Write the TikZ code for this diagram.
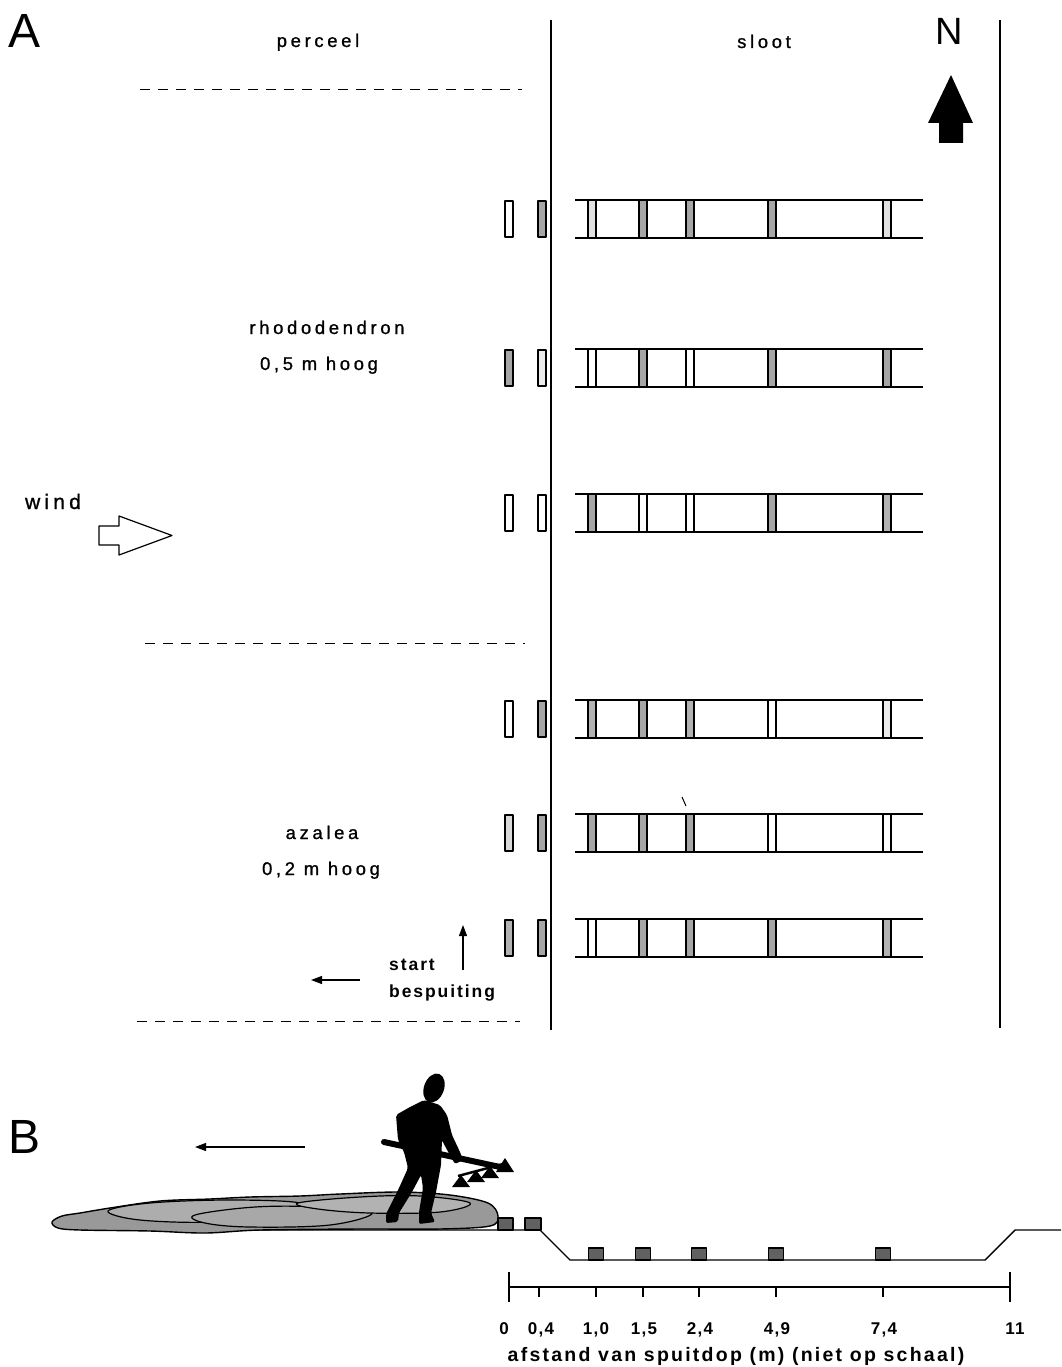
\documentclass[tikz,border=0pt]{standalone}
\usepackage{fontspec}
\setmainfont{Liberation Sans}
\newfontfamily\spaced[LetterSpace=20,FakeBold=1]{Liberation Sans}
\newfontfamily\spacedb[LetterSpace=11]{Liberation Sans}
\newfontfamily\scalefont[LetterSpace=8]{Liberation Sans}
\newfontfamily\capfont[LetterSpace=11.5]{Liberation Sans}
\usetikzlibrary{arrows.meta}

\begin{document}
\begin{tikzpicture}[x=1pt,y=-1pt,line join=round,
  lbl/.style={font=\fontsize{18.4}{20}\selectfont\spaced,inner sep=0,anchor=base},
  boldlbl/.style={font=\fontsize{17.5}{20}\selectfont\spacedb\bfseries,inner sep=0,anchor=base west},
  scalenum/.style={font=\fontsize{17}{18}\selectfont\scalefont\bfseries,inner sep=0,anchor=base},
  caption/.style={font=\fontsize{19.5}{21}\selectfont\capfont\bfseries,inner sep=0,anchor=base},
  panel/.style={font=\fontsize{48}{50}\selectfont,inner sep=0,anchor=base west},
  border/.style={line width=1.6pt},
  plotedge/.style={line width=1pt,dash pattern=on 10pt off 8pt},
  strip/.style={line width=1.5pt},
  coll/.style={draw,line width=1.4pt},
  ptr/.style={line width=1.2pt,-{Triangle[length=11pt,width=8pt]}},
  ground/.style={line width=1.4pt},
  trap/.style={draw,line width=1.3pt,fill=black!62},
  tick/.style={line width=1.2pt}]

\useasboundingbox (0,0) rectangle (1061,1367);
\fill[white] (0,0) rectangle (1061,1367);

% ---------------- panel A: plan view ----------------
\node[panel] (labA) at (8,48) {A};
\node[lbl] (perceel) at (318,47) {perceel};
\node[lbl] (sloot) at (764,48) {sloot};
\node[font=\fontsize{38}{40}\selectfont,inner sep=0,anchor=base] (north) at (949,45) {N};

% field edge and far ditch bank
\coordinate (edgeT) at (551,20);
\coordinate (edgeB) at (551,1030);
\coordinate (bankT) at (1000,20);
\coordinate (bankB) at (1000,1028);
\draw[border] (edgeT) -- (edgeB);
\draw[border] (bankT) -- (bankB);

% north arrow
\fill (951,75) -- (973,123) -- (963,123) -- (963,143) -- (939,143) -- (939,123) -- (928,123) -- cycle;

% borders between plots
\coordinate (d1a) at (140,90);  \coordinate (d1b) at (522,90);
\coordinate (d2a) at (145,643); \coordinate (d2b) at (525,643);
\coordinate (d3a) at (137,1021); \coordinate (d3b) at (520,1021);
\draw[plotedge] (d1a) -- (d1b);
\draw[plotedge] (d2a) -- (d2b);
\draw[plotedge] (d3a) -- (d3b);

% collector rows: two on the field edge, five across the ditch
\foreach \y/\la/\lb/\sa/\sb/\sc/\sd/\se in {
  219/0/35/12/35/35/35/12,
  368/35/8/0/35/0/35/35,
  513/0/0/35/0/0/35/30,
  719/0/35/30/35/30/0/8,
  833/15/35/35/35/35/0/0,
  938/30/35/0/35/35/35/30}{
  \draw[strip] (575,\y-19) -- (923,\y-19) (575,\y+19) -- (923,\y+19);
  \draw[coll,fill=black!\la] (505,\y-18) rectangle (513,\y+18);
  \draw[coll,fill=black!\lb] (538,\y-18) rectangle (546,\y+18);
  \draw[coll,fill=black!\sa] (588,\y-19) rectangle (596,\y+19);
  \draw[coll,fill=black!\sb] (639,\y-19) rectangle (647,\y+19);
  \draw[coll,fill=black!\sc] (686,\y-19) rectangle (694,\y+19);
  \draw[coll,fill=black!\sd] (768,\y-19) rectangle (776,\y+19);
  \draw[coll,fill=black!\se] (883,\y-19) rectangle (891,\y+19);
}
\draw[line width=1pt] (682,797) -- (686,806);

% crop labels
\node[lbl] (rhodo) at (327,334) {rhododendron};
\node[lbl] (rhodoh) at (319,370) {0,5 m hoog};
\node[lbl] (azalea) at (322,839) {azalea};
\node[lbl] (azaleah) at (321,875) {0,2 m hoog};

% wind
\node[lbl,font=\fontsize{21}{23}\selectfont\spaced] (wind) at (53,509) {wind};
\draw[line width=1.2pt,fill=white] (99,526) -- (119,526) -- (119,516) -- (172,535.5) -- (119,555) -- (119,545) -- (99,545) -- cycle;

% start of the spraying run
\node[boldlbl] (start) at (389,970) {start};
\node[boldlbl] (besp) at (389,997) {bespuiting};
\coordinate (upS) at (463,970);
\coordinate (upE) at (463,925);
\coordinate (lfS) at (360,980);
\coordinate (lfE) at (311,980);
\draw[ptr] (upS) -- (upE);
\draw[ptr] (lfS) -- (lfE);

% ---------------- panel B: cross section ----------------
\node[panel] (labB) at (8,1153) {B};
\coordinate (walkS) at (305,1147);
\coordinate (walkE) at (195,1147);
\draw[ptr] (walkS) -- (walkE);

% ground profile with ditch
\draw[ground] (200,1230) -- (540,1230) -- (570,1260) -- (985,1260) -- (1015,1230) -- (1061,1230);

% crop canopy
\draw[line width=1.4pt,fill=black!40] plot[smooth cycle,tension=0.55] coordinates {
  (52,1222) (62,1216) (80,1213) (110,1208) (160,1201) (210,1199) (250,1197) (300,1196) (340,1194) (400,1192)
  (450,1195) (488,1203) (498,1216) (490,1226) (440,1229) (360,1229) (260,1230)
  (205,1233) (150,1231) (80,1230) (58,1228)};
\draw[line width=1.2pt,fill=black!32] plot[smooth cycle,tension=0.6] coordinates {
  (108,1211) (150,1203) (230,1200) (300,1203) (285,1214) (215,1222) (140,1220)};
\draw[line width=1.2pt,fill=black!34] plot[smooth cycle,tension=0.6] coordinates {
  (195,1215) (255,1207) (320,1207) (372,1213) (330,1225) (250,1227) (205,1223)};
\draw[line width=1.2pt,fill=black!30] plot[smooth cycle,tension=0.6] coordinates {
  (298,1203) (360,1197) (420,1196) (470,1203) (440,1212) (370,1213) (318,1209)};

% operator with spray boom
\fill[rotate around={-20:(434,1088)}] (434,1088) ellipse [x radius=10, y radius=15];
\fill[rounded corners=2pt] (424,1100) -- (440,1105) -- (447,1115) -- (452,1135) -- (460,1152)
  -- (463,1160) -- (455,1164) -- (446,1148) -- (442,1140) -- (441,1165) -- (436,1192)
  -- (431,1213) -- (435,1222) -- (419,1224) -- (419,1212) -- (423,1188) -- (421,1175)
  -- (412,1192) -- (399,1213) -- (398,1222) -- (386,1223) -- (386,1214) -- (399,1188)
  -- (408,1168) -- (404,1152) -- (398,1140) -- (396,1115) -- (410,1107) -- cycle;
\draw[line width=6pt,line cap=round] (384,1142) -- (500,1167);
\draw[line width=2.5pt] (458,1176) -- (503,1164);
\fill (461,1175) -- (470,1187) -- (452,1187) -- cycle;
\fill (476,1170) -- (485,1182) -- (467,1182) -- cycle;
\fill (490,1166) -- (499,1178) -- (481,1178) -- cycle;
\fill (505,1158) -- (514,1172) -- (496,1172) -- cycle;

% collectors in section
\draw[trap] (498,1218) rectangle (513,1230);
\draw[trap] (525,1218) rectangle (541,1230);
\foreach \x in {596,643,699,776,883}{
  \draw[trap] (\x-7.5,1248) rectangle (\x+7.5,1260);
}

% distance scale
\coordinate (sc0) at (509,1287);
\coordinate (sc1) at (1010,1287);
\draw[tick] (sc0) -- (sc1);
\draw[tick] (509,1272) -- (509,1302);
\draw[tick] (1010,1272) -- (1010,1302);
\foreach \x in {539,596,643,699,776,883}{
  \draw[tick] (\x,1287) -- (\x,1297);
}
\node[scalenum] (n0) at (504,1334) {0};
\node[scalenum] (n1) at (541,1334) {0,4};
\node[scalenum] (n2) at (596,1334) {1,0};
\node[scalenum] (n3) at (644,1334) {1,5};
\node[scalenum] (n4) at (700,1334) {2,4};
\node[scalenum] (n5) at (777,1334) {4,9};
\node[scalenum] (n6) at (884,1334) {7,4};
\node[scalenum] (n7) at (1015,1334) {11};
\node[caption] (cap) at (736,1361) {afstand van spuitdop (m) (niet op schaal)};
\end{tikzpicture}
\end{document}
